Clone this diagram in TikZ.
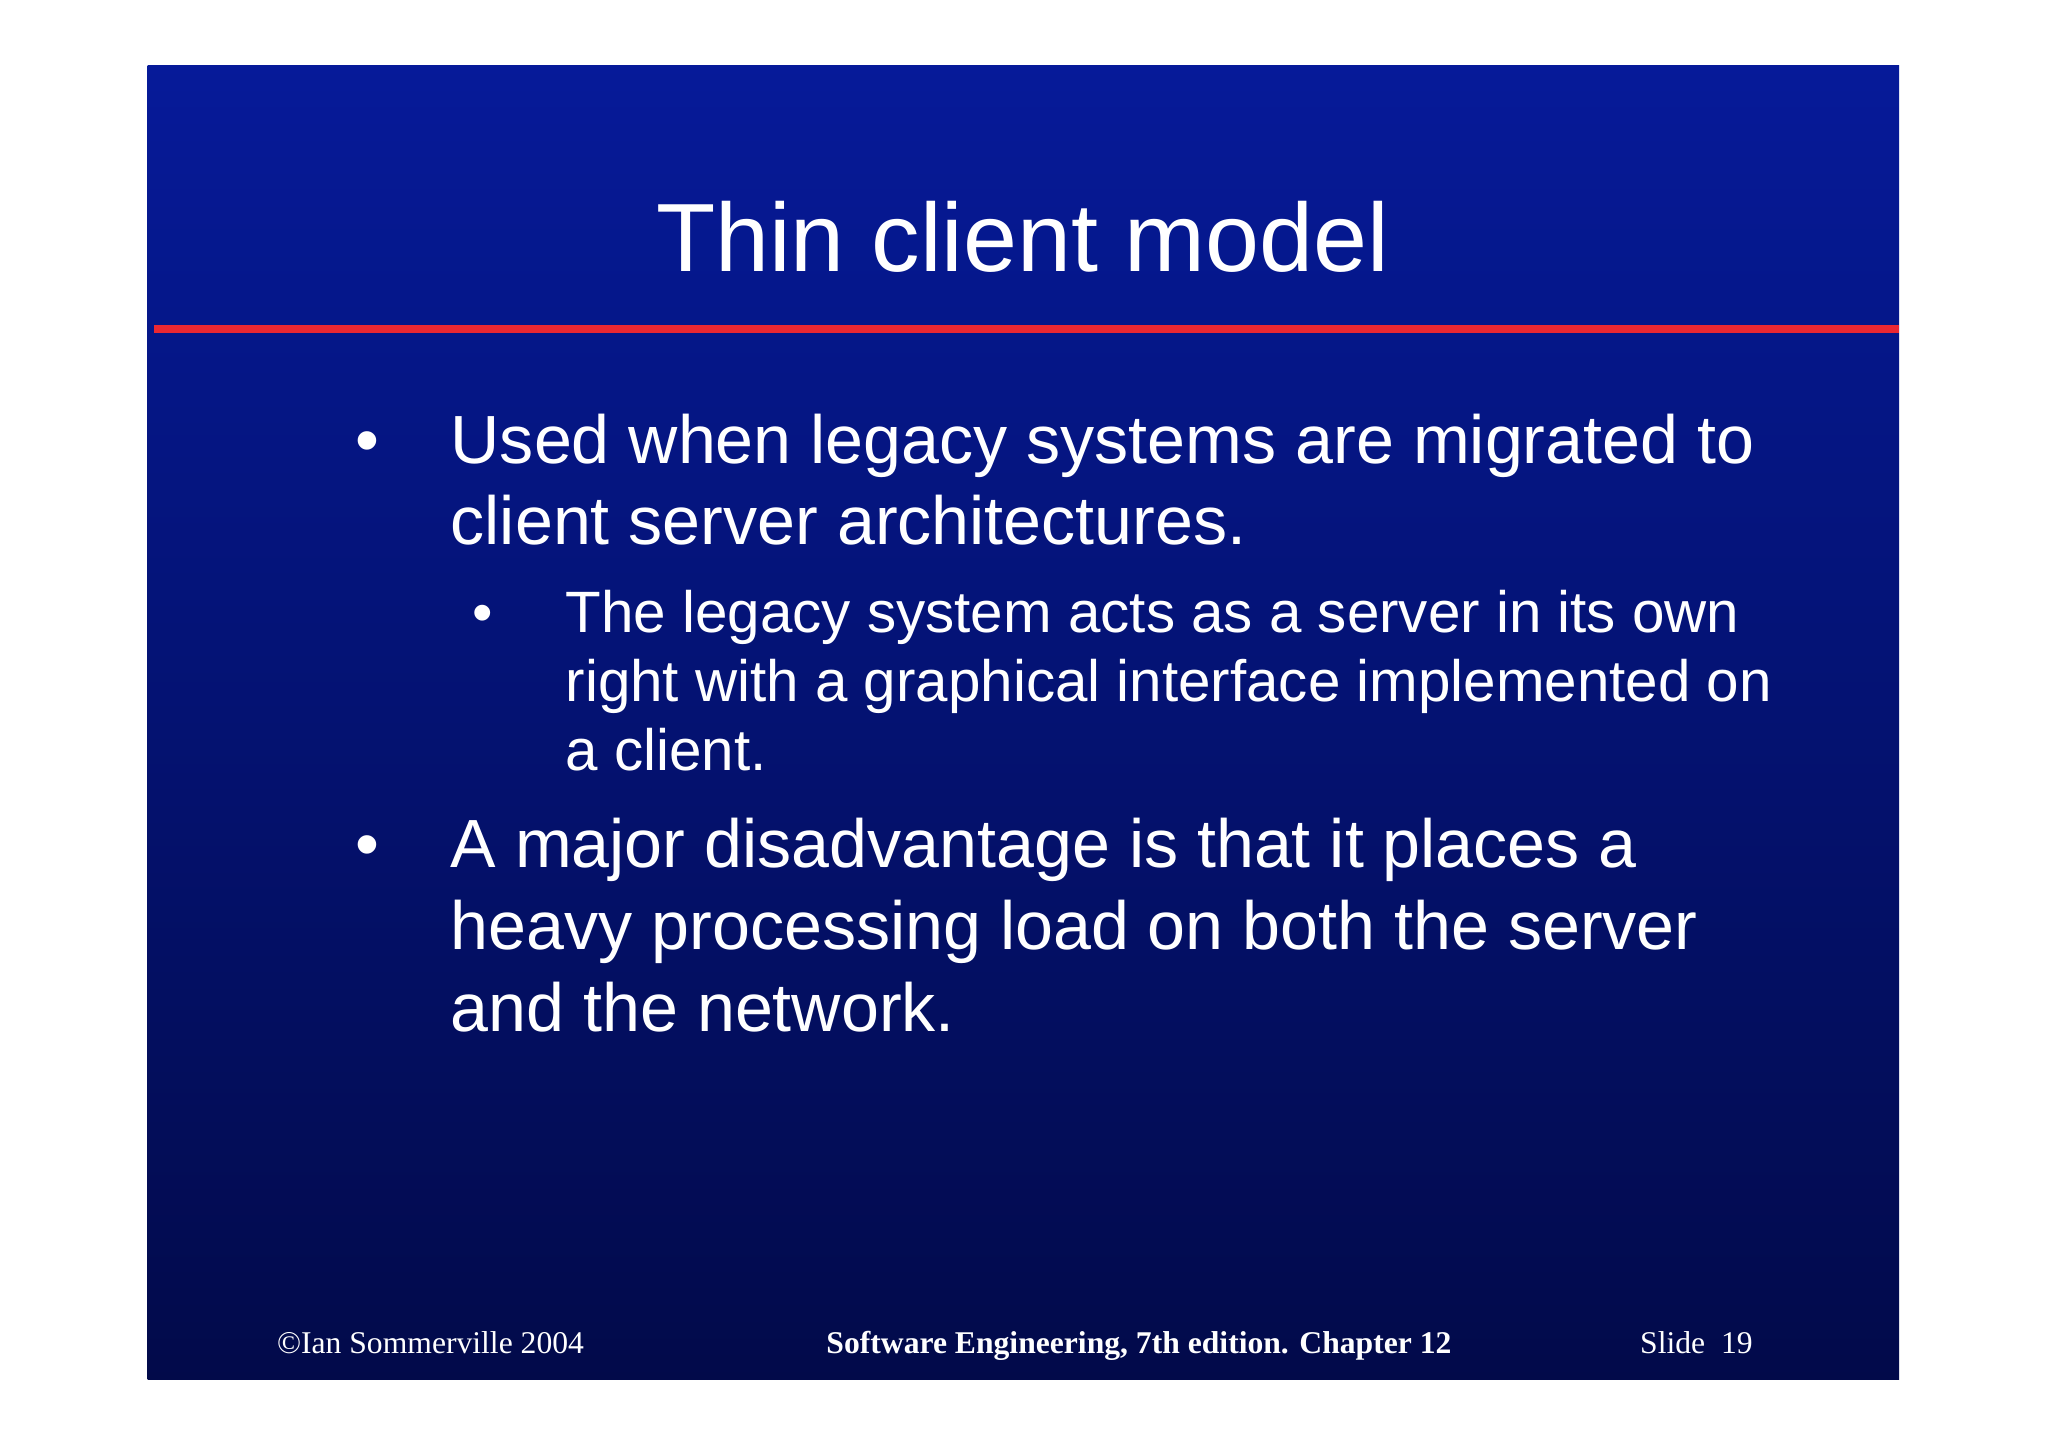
\documentclass[tikz,border=0pt]{standalone}
\usepackage{fontspec}
\setmainfont{Liberation Sans}
\newfontfamily\serifft{Liberation Serif}
\begin{document}
\begin{tikzpicture}[x=0.0653cm,y=-0.0653cm,
  txt/.style={text=white,inner sep=0,anchor=base west},
  big/.style={txt,font=\fontsize{97}{104}\selectfont},
  sub/.style={txt,font=\fontsize{83}{90}\selectfont},
  foot/.style={txt,font=\serifft\fontsize{45}{50}\selectfont}]
\useasboundingbox (0,0) rectangle (1568,1108);
\fill[white] (0,0) rectangle (1568,1108);
\shade[top color={rgb,255:red,6;green,26;blue,153},bottom color={rgb,255:red,2;green,10;blue,74}] (113,50) rectangle (1454,1056);
\draw[line width=6*0.0653cm,color={rgb,255:red,235;green,40;blue,50}] (118,252) -- (1454,252);
\node[txt,anchor=base,font=\fontsize{138}{144}\selectfont] (title) at (783,208) {Thin client model};
\node[big] (b1) at (272,355) {\textbullet};
\node[big] (l1) at (345,355) {Used when legacy systems are migrated to};
\node[big] (l2) at (345,417) {client server architectures.};
\node[sub] (s1) at (362,484) {\textbullet};
\node[sub] (l3) at (433,484) {The legacy system acts as a server in its own};
\node[sub] (l4) at (433,537) {right with a graphical interface implemented on};
\node[sub] (l5) at (433,590) {a client.};
\node[big] (b2) at (272,664) {\textbullet};
\node[big] (l6) at (345,664) {A major disadvantage is that it places a};
\node[big] (l7) at (345,727) {heavy processing load on both the server};
\node[big] (l8) at (345,790) {and the network.};
\node[foot] (f1) at (212,1036) {\textcopyright Ian Sommerville 2004};
\node[foot,anchor=base,font=\serifft\bfseries\fontsize{45}{50}\selectfont] (f2) at (872,1036) {Software Engineering, 7th edition. Chapter 12};
\node[foot,anchor=base east] (f3) at (1342,1036) {Slide\ \ 19};
\end{tikzpicture}
\end{document}
